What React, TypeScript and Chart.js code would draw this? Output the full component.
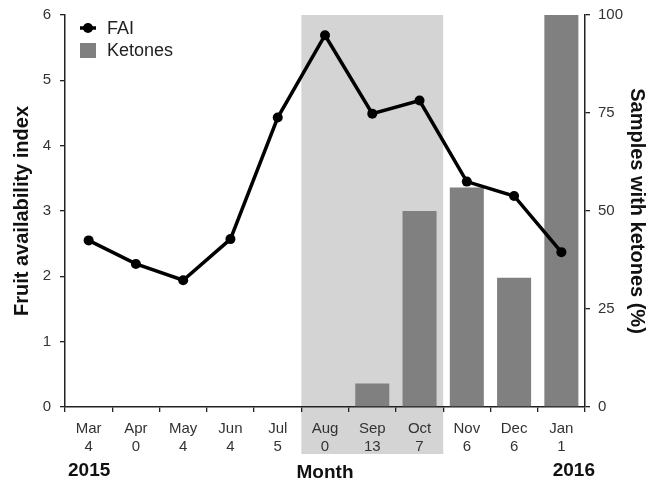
import React, { useEffect, useRef } from "react";
import { Chart, registerables } from "chart.js";

Chart.register(...registerables);

const months = ["Mar", "Apr", "May", "Jun", "Jul", "Aug", "Sep", "Oct", "Nov", "Dec", "Jan"];
const sampleCounts = ["4", "0", "4", "4", "5", "0", "13", "7", "6", "6", "1"];
const faiValues = [2.55, 2.19, 1.94, 2.57, 4.43, 5.69, 4.49, 4.69, 3.45, 3.23, 2.37];
const ketoneValues = [0, 0, 0, 0, 0, 0, 6, 50, 56, 33, 100];
const leftTicks = [0, 1, 2, 3, 4, 5, 6];
const rightTicks = [0, 25, 50, 75, 100];
const shadedMonths = ["Aug", "Oct"];

const FONT = "'Liberation Sans', Arial, Helvetica, sans-serif";

export default function App() {
  const ref = useRef<HTMLCanvasElement | null>(null);

  useEffect(() => {
    const canvas = ref.current;
    if (!canvas) return;

    const decor = {
      id: "decor",
      beforeDraw(chart: any) {
        const { ctx, chartArea } = chart;
        const x = chart.scales.x;
        const half = (x.getPixelForValue(1) - x.getPixelForValue(0)) / 2;
        const i0 = months.indexOf(shadedMonths[0]);
        const i1 = months.indexOf(shadedMonths[1]);
        const left = x.getPixelForValue(i0) - half;
        const right = x.getPixelForValue(i1) + half;
        ctx.save();
        ctx.fillStyle = "#d4d4d4";
        ctx.fillRect(left, chartArea.top, right - left, 454 - chartArea.top);
        ctx.restore();
      },
      afterDraw(chart: any) {
        const { ctx, chartArea } = chart;
        ctx.save();
        ctx.fillStyle = "#111";
        ctx.font = `bold 20px ${FONT}`;
        ctx.textAlign = "center";
        ctx.textBaseline = "middle";
        const cy = (chartArea.top + chartArea.bottom) / 2;
        ctx.save();
        ctx.translate(22, cy);
        ctx.rotate(-Math.PI / 2);
        ctx.fillText("Fruit availability index", 0, 0);
        ctx.restore();
        ctx.save();
        ctx.translate(637, cy);
        ctx.rotate(Math.PI / 2);
        ctx.fillText("Samples with ketones (%)", 0, 0);
        ctx.restore();
        ctx.font = `bold 19px ${FONT}`;
        ctx.fillText("Month", (chartArea.left + chartArea.right) / 2, 473);
        ctx.textAlign = "left";
        ctx.fillText("2015", 68, 471);
        ctx.textAlign = "right";
        ctx.fillText("2016", 595, 471);

        // legend
        const lx = 80;
        ctx.strokeStyle = "#000";
        ctx.lineWidth = 3.5;
        ctx.beginPath();
        ctx.moveTo(lx, 28);
        ctx.lineTo(lx + 16, 28);
        ctx.stroke();
        ctx.fillStyle = "#000";
        ctx.beginPath();
        ctx.arc(lx + 8, 28, 5, 0, Math.PI * 2);
        ctx.fill();
        ctx.fillStyle = "#808080";
        ctx.fillRect(lx, 43, 16, 15);
        ctx.fillStyle = "#222";
        ctx.font = `18px ${FONT}`;
        ctx.textAlign = "left";
        ctx.fillText("FAI", 107, 29);
        ctx.fillText("Ketones", 107, 51);
        ctx.restore();
      },
    };

    const chart = new Chart(canvas, {
      type: "bar",
      data: {
        labels: months.map((m, i) => [m, sampleCounts[i]]),
        datasets: [
          {
            type: "line",
            label: "FAI",
            data: faiValues,
            yAxisID: "y",
            borderColor: "#000",
            backgroundColor: "#000",
            borderWidth: 3.5,
            pointRadius: 5,
            pointHoverRadius: 5,
            pointBackgroundColor: "#000",
            pointBorderWidth: 0,
            tension: 0,
            order: 0,
          } as any,
          {
            type: "bar",
            label: "Ketones",
            data: ketoneValues,
            yAxisID: "y2",
            backgroundColor: "#808080",
            borderWidth: 0,
            barPercentage: 0.72,
            categoryPercentage: 1,
            order: 1,
          },
        ],
      },
      options: {
        animation: false,
        responsive: false,
        maintainAspectRatio: false,
        layout: { padding: { top: 15, left: 0, right: 0, bottom: 0 } },
        plugins: { legend: { display: false }, tooltip: { enabled: false } },
        scales: {
          x: {
            offset: true,
            grid: {
              offset: true,
              drawOnChartArea: false,
              drawTicks: true,
              tickLength: 5,
              color: "#222",
              lineWidth: 1.3,
            },
            border: { color: "#222", width: 1.5 },
            ticks: {
              color: "#333",
              font: { family: FONT, size: 15, lineHeight: 1.2 },
              padding: 8,
              maxRotation: 0,
              autoSkip: false,
            },
            afterFit(scale: any) {
              scale.height = 76;
            },
          },
          y: {
            position: "left",
            min: 0,
            max: 6,
            afterBuildTicks(scale: any) {
              scale.ticks = leftTicks.map((v) => ({ value: v }));
            },
            grid: { drawOnChartArea: false, tickLength: 5, color: "#222", lineWidth: 1.3 },
            border: { color: "#222", width: 1.5 },
            ticks: {
              color: "#333",
              font: { family: FONT, size: 15, lineHeight: 0.8 },
              padding: 9,
            },
            afterFit(scale: any) {
              scale.width = 65;
              scale.paddingTop = 0;
            },
          },
          y2: {
            position: "right",
            min: 0,
            max: 100,
            afterBuildTicks(scale: any) {
              scale.ticks = rightTicks.map((v) => ({ value: v }));
            },
            grid: { drawOnChartArea: false, tickLength: 5, color: "#222", lineWidth: 1.3 },
            border: { color: "#222", width: 1.5 },
            ticks: {
              color: "#333",
              font: { family: FONT, size: 15, lineHeight: 0.8 },
              padding: 8,
            },
            afterFit(scale: any) {
              scale.width = 66;
              scale.paddingTop = 0;
            },
          },
        },
      },
      plugins: [decor],
    });

    return () => chart.destroy();
  }, []);

  return (
    <div style={{ position: "fixed", left: 0, top: 0, width: 651, height: 483, background: "#fff" }}>
      <canvas ref={ref} width={651} height={483} style={{ width: 651, height: 483, display: "block" }} />
    </div>
  );
}
